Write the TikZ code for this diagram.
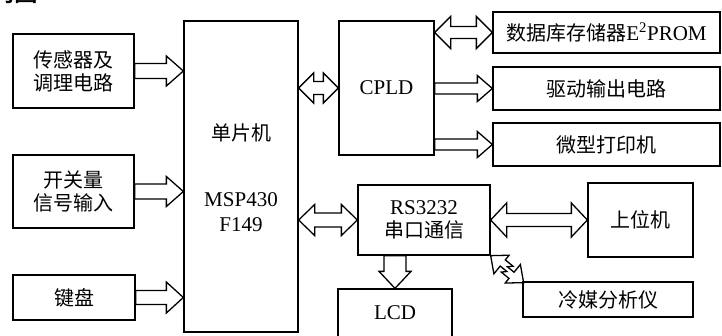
\documentclass[tikz,border=0pt]{standalone}
\usepackage{fontspec}
\setmainfont{Liberation Serif}
\newfontfamily\cjk{Noto Sans CJK SC}
\newfontfamily\cjkb[FakeBold=3]{Noto Sans CJK SC}
\usetikzlibrary{calc}
\tikzset{
  box/.style={draw, line width=1.3pt, inner sep=0pt, align=center,
    font=\fontsize{21}{23}\selectfont},
  cbox/.style={box, font=\cjk\fontsize{20}{23}\selectfont},
  hollow/.style={draw, line width=1.3pt, line join=miter},
  lbl/.style={inner sep=0pt, align=center, font=\fontsize{21}{23}\selectfont},
  clbl/.style={lbl, font=\cjk\fontsize{20}{23}\selectfont},
}
% single hollow arrow pointing right: from, to, shaft half, head half, head length
\newcommand\arrR[5]{\draw[hollow] let \p1=(#1), \p2=(#2) in
  (\x1,\y1+#3) -- (\x2-#5,\y1+#3) -- (\x2-#5,\y1+#4) -- (\x2,\y1) --
  (\x2-#5,\y1-#4) -- (\x2-#5,\y1-#3) -- (\x1,\y1-#3) -- cycle;}
% double hollow arrow, horizontal
\newcommand\arrLR[5]{\draw[hollow] let \p1=(#1), \p2=(#2) in
  (\x1,\y1) -- (\x1+#5,\y1+#4) -- (\x1+#5,\y1+#3) -- (\x2-#5,\y1+#3) --
  (\x2-#5,\y1+#4) -- (\x2,\y1) -- (\x2-#5,\y1-#4) -- (\x2-#5,\y1-#3) --
  (\x1+#5,\y1-#3) -- (\x1+#5,\y1-#4) -- cycle;}
% single hollow arrow pointing down
\newcommand\arrD[5]{\draw[hollow] let \p1=(#1), \p2=(#2) in
  (\x1+#3,\y1) -- (\x1+#3,\y2+#5) -- (\x1+#4,\y2+#5) -- (\x1,\y2) --
  (\x1-#4,\y2+#5) -- (\x1-#3,\y2+#5) -- (\x1-#3,\y1) -- cycle;}
\begin{document}
\begin{tikzpicture}[x=1pt,y=-1pt]
\fill[white] (0,0) rectangle (722,335);
\useasboundingbox (0,0) rectangle (722,335);

% partially cut heading (cut off in the reference as well)
\node[anchor=base west, inner sep=0pt, font=\cjkb\fontsize{23}{23}\selectfont] (head) at (-9,1) {构图};

% left inputs
\node[cbox, minimum width=121pt, minimum height=74pt] (s1) at (73.5,71) {传感器及\\调理电路};
\node[cbox, minimum width=121pt, minimum height=73pt] (s2) at (73.5,191.5) {开关量\\信号输入};
\node[cbox, minimum width=122pt, minimum height=45pt] (kb) at (74,297.5) {键盘};

% MCU
\node[box, minimum width=114pt, minimum height=311pt] (mcu) at (241,176.5) {};
\node[clbl] (mcuA) at (241,133) {单片机};
\node[lbl] (mcuB) at (241,200) {MSP430};
\node[lbl] (mcuC) at (241,225) {F149};

% CPLD and outputs
\node[box, minimum width=95pt, minimum height=134pt] (cpld) at (386.5,88) {CPLD};
\node[box, minimum width=227pt, minimum height=41pt] (ee) at (606.5,32.5) {{\cjk\fontsize{20}{23}\selectfont 数据库存储器}E\textsuperscript{2}PROM};
\node[cbox, minimum width=227pt, minimum height=43pt] (drv) at (606.5,88.5) {驱动输出电路};
\node[cbox, minimum width=227pt, minimum height=43pt] (prt) at (606.5,144.5) {微型打印机};

% serial
\node[box, minimum width=132pt, minimum height=70pt] (rs) at (424,220) {RS3232\\{\cjk\fontsize{20}{23}\selectfont 串口通信}};
\node[cbox, minimum width=105pt, minimum height=74pt] (pc) at (640.5,220) {上位机};
\node[box, minimum width=114pt, minimum height=48pt] (lcd) at (395,313) {LCD};
\node[cbox, minimum width=170pt, minimum height=35pt] (lm) at (608,299.5) {冷媒分析仪};

% arrows into MCU
\arrR{s1.east}{mcu.west |- s1.east}{7.5pt}{15pt}{17pt}
\arrR{s2.east}{mcu.west |- s2.east}{7.5pt}{15pt}{17pt}
\arrR{kb.east}{mcu.west |- kb.east}{7pt}{15.5pt}{17pt}

% MCU <-> CPLD
\arrLR{mcu.east |- cpld.west}{cpld.west}{6.5pt}{15pt}{15pt}
% CPLD to outputs
\arrLR{cpld.east |- ee.west}{ee.west}{6pt}{16pt}{16pt}
\arrR{cpld.east |- drv.west}{drv.west}{5.5pt}{13pt}{15pt}
\arrR{cpld.east |- prt.west}{prt.west}{5.5pt}{13pt}{15pt}

% MCU <-> RS3232, RS3232 <-> PC
\arrLR{mcu.east |- rs.west}{rs.west}{7pt}{15.5pt}{16pt}
\arrLR{rs.east}{pc.west}{6.5pt}{17pt}{16pt}
% RS3232 -> LCD
\arrD{lcd.north |- rs.south}{lcd.north}{11pt}{16pt}{17pt}

% zigzag double arrow RS3232 <-> refrigerant analyser
\begin{scope}[shift={(rs.south east)}, rotate=-39.3, x=1pt, y=1pt]
\draw[hollow] (0,0) -- (14,12) -- (14,6) -- (24,6) -- (20,2) -- (28.6,2) --
  (28.6,12) -- (42.6,0) -- (28.6,-12) -- (28.6,-6) -- (18.6,-6) -- (22.6,-2) --
  (14,-2) -- (14,-12) -- cycle;
\end{scope}
\end{tikzpicture}
\end{document}
